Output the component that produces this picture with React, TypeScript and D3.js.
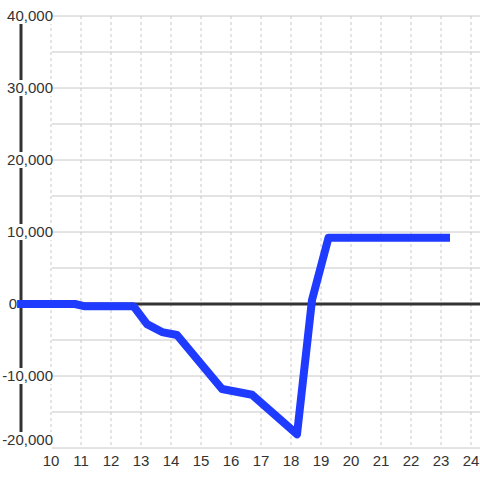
import React from "react";
import * as d3 from "d3";

const xTicks = [10, 11, 12, 13, 14, 15, 16, 17, 18, 19, 20, 21, 22, 23, 24];
const yTicks = [-20000, -10000, 0, 10000, 20000, 30000, 40000];
const yGrid = [-20000, -15000, -10000, -5000, 0, 5000, 10000, 15000, 20000, 25000, 30000, 35000, 40000];
const xValues = [8.87, 10.8, 11.1, 12.75, 13.2, 13.7, 14.2, 15.7, 16.7, 18.2, 18.7, 19.25, 23.3];
const yValues = [0, 0, -300, -300, -2800, -3900, -4300, -11800, -12600, -18100, 550, 9200, 9200];

export default function App() {
  const W = 480, H = 480;
  const x = d3.scaleLinear().domain([9, 24.3]).range([21, 480]);
  const y = d3.scaleLinear().domain([-20000, 40000]).range([448, 16]);
  const data = xValues.map((v, i) => [v, yValues[i]] as [number, number]);
  const line = d3.line<[number, number]>().x(d => x(d[0])).y(d => y(d[1]));
  const fmt = (v: number) => d3.format(",")(v).replace("\u2212", "-");
  const font = "'Liberation Sans', Arial, sans-serif";
  return (
    <div style={{ position: "fixed", left: 0, top: 0 }}>
      <svg width={W} height={H} style={{ display: "block", background: "#fff" }}>
        {xTicks.map(t => (
          <line key={"vx" + t} x1={x(t)} x2={x(t)} y1={y(40000)} y2={y(-20000)} stroke="#c8c8c8" strokeWidth={1} strokeDasharray="3,3" />
        ))}
        {yGrid.map(t => (
          <line key={"hg" + t} x1={52} x2={480} y1={y(t)} y2={y(t)} stroke="#c8c8c8" strokeWidth={1} />
        ))}
        <line x1={x(9)} x2={x(9)} y1={y(40000)} y2={y(-20000)} stroke="#333" strokeWidth={3} />
        <line x1={x(9)} x2={480} y1={y(0)} y2={y(0)} stroke="#333" strokeWidth={3} />
        {yTicks.map(t => {
          const yy = Math.min(y(t), 440);
          const isZero = t === 0;
          return (
            <g key={"yl" + t}>
              {!isZero && <rect x={2} y={yy - 8} width={50} height={16} fill="#fff" />}
              <text x={isZero ? 17 : 53} y={yy} dy="0.35em" textAnchor="end" fontSize={15} fontFamily={font} fill="#333">{fmt(t)}</text>
            </g>
          );
        })}
        {xTicks.map(t => (
          <text key={"xl" + t} x={x(t)} y={461} dy="0.35em" textAnchor="middle" fontSize={15} fontFamily={font} fill="#333">{t}</text>
        ))}
        <path d={line(data) || ""} fill="none" stroke="#1f3bff" strokeWidth={8} strokeLinejoin="round" />
      </svg>
    </div>
  );
}
